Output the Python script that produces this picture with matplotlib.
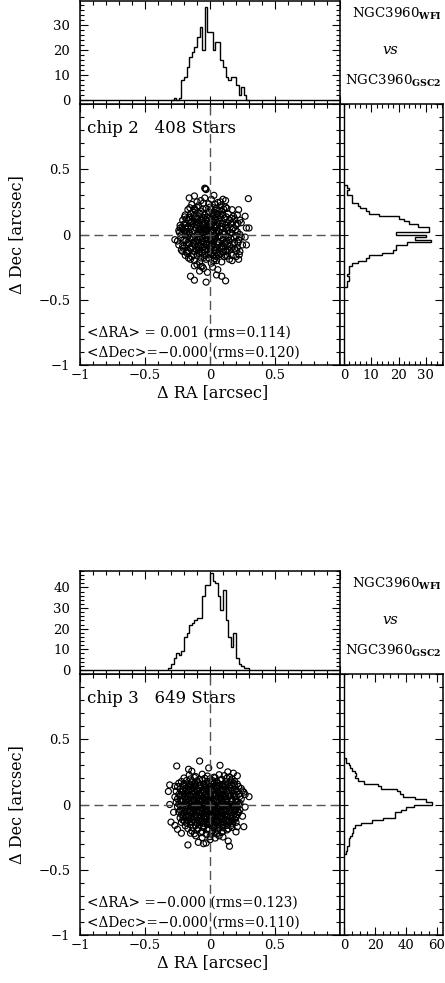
import numpy as np
import matplotlib.pyplot as plt
from matplotlib.ticker import MultipleLocator

plt.rcParams['font.family'] = 'DejaVu Serif'
plt.rcParams['mathtext.fontset'] = 'dejavuserif'

W, H = 445, 983
BIN = 0.02

# ---- chip 2 ----
chip2_label = 'chip 2   408 Stars'
chip2_stats = ['<ΔRA> = 0.001 (rms=0.114)', '<ΔDec>=−0.000 (rms=0.120)']
chip2_ra_start = -0.30
chip2_ra_counts = [0, 1, 0, 1, 8, 9, 13, 17, 19, 21, 25, 29, 20, 37, 27,
                   27, 20, 23, 23, 16, 13, 9, 8, 9, 9, 6, 2, 5, 2, 0]
chip2_dec_start = -0.40
chip2_dec_counts = [1, 1, 2, 2, 1, 2, 2, 2, 3, 5, 8, 9, 14, 18, 19, 19, 23,
                    32, 26, 30, 19, 31, 31, 27, 24, 22, 20, 13, 9, 8, 6, 5,
                    3, 3, 3, 1, 1, 2, 1]
chip2_stars = [
    (-0.04, 0.355), (-0.03, 0.345), (-0.035, 0.35), (-0.16, 0.28), (-0.12, 0.295),
    (0.295, 0.275), (0.10, 0.27), (0.08, 0.25), (-0.27, -0.04), (-0.23, 0.05),
    (-0.21, -0.13), (0.22, 0.19), (0.27, 0.14), (0.28, 0.05), (0.30, 0.05),
    (0.28, -0.08), (0.22, -0.19), (-0.15, -0.32), (-0.12, -0.35), (-0.03, -0.365),
    (0.09, -0.32), (0.12, -0.355), (-0.12, -0.24), (-0.07, -0.245), (-0.06, -0.245),
    (-0.165, -0.18), (-0.15, -0.19), (0.03, -0.20), (0.12, -0.16), (0.15, -0.19),
    (0.225, -0.155), (0.24, -0.02), (0.27, -0.02),
    (-0.14, 0.23), (-0.09, 0.22), (-0.05, 0.24), (0.0, 0.21), (0.04, 0.23),
    (0.08, 0.22), (0.12, 0.21), (-0.01, 0.235), (0.06, 0.245),
    (-0.17, 0.19), (-0.12, 0.20), (-0.07, 0.18), (-0.03, 0.20), (0.01, 0.19),
    (0.05, 0.20), (0.09, 0.18), (0.13, 0.20), (0.17, 0.19), (-0.10, 0.21), (0.03, 0.17),
    (-0.19, 0.15), (-0.15, 0.16), (-0.11, 0.14), (-0.08, 0.16), (-0.04, 0.15),
    (-0.01, 0.17), (0.02, 0.14), (0.06, 0.16), (0.10, 0.15), (0.14, 0.16),
    (0.18, 0.14), (0.21, 0.15), (-0.13, 0.17), (0.08, 0.13),
    (-0.21, 0.11), (-0.18, 0.12), (-0.14, 0.10), (-0.11, 0.12), (-0.07, 0.11),
    (-0.05, 0.13), (-0.02, 0.10), (0.01, 0.12), (0.04, 0.11), (0.07, 0.10),
    (0.11, 0.12), (0.15, 0.11), (0.19, 0.12), (0.23, 0.11), (-0.16, 0.13),
    (0.13, 0.09), (-0.09, 0.09),
    (-0.23, 0.07), (-0.20, 0.08), (-0.17, 0.06), (-0.13, 0.08), (-0.10, 0.07),
    (-0.06, 0.08), (-0.03, 0.06), (0.0, 0.08), (0.03, 0.07), (0.06, 0.09),
    (0.09, 0.06), (0.12, 0.07), (0.16, 0.08), (0.20, 0.07), (0.24, 0.09),
    (-0.08, 0.05), (0.04, 0.05), (0.18, 0.05), (-0.15, 0.09),
    (-0.24, 0.03), (-0.21, 0.04), (-0.18, 0.02), (-0.15, 0.04), (-0.12, 0.03),
    (-0.09, 0.02), (-0.05, 0.04), (-0.02, 0.03), (0.01, 0.02), (0.05, 0.03),
    (0.08, 0.04), (0.11, 0.02), (0.14, 0.03), (0.17, 0.04), (0.21, 0.02),
    (-0.01, 0.05), (0.10, 0.05), (-0.19, 0.05),
    (-0.22, 0.0), (-0.19, -0.01), (-0.16, 0.01), (-0.13, -0.02), (-0.10, 0.0),
    (-0.07, 0.01), (-0.04, -0.01), (-0.01, 0.0), (0.02, -0.02), (0.05, 0.01),
    (0.08, -0.01), (0.11, 0.0), (0.14, -0.02), (0.17, 0.01), (0.20, -0.01),
    (0.23, 0.0), (-0.06, -0.02), (0.03, 0.01),
    (-0.25, -0.05), (-0.20, -0.04), (-0.17, -0.06), (-0.14, -0.04), (-0.11, -0.05),
    (-0.08, -0.03), (-0.05, -0.06), (-0.02, -0.04), (0.01, -0.05), (0.04, -0.03),
    (0.07, -0.06), (0.10, -0.04), (0.13, -0.05), (0.16, -0.03), (0.19, -0.06),
    (0.22, -0.04), (-0.03, -0.07), (0.06, -0.02),
    (-0.24, -0.08), (-0.21, -0.09), (-0.18, -0.08), (-0.15, -0.10), (-0.12, -0.08),
    (-0.09, -0.09), (-0.06, -0.10), (-0.03, -0.08), (0.0, -0.09), (0.03, -0.10),
    (0.06, -0.08), (0.09, -0.09), (0.12, -0.07), (0.15, -0.09), (0.18, -0.08),
    (0.21, -0.10), (0.25, -0.08), (-0.16, -0.07),
    (-0.22, -0.12), (-0.18, -0.13), (-0.15, -0.11), (-0.12, -0.13), (-0.09, -0.12),
    (-0.06, -0.14), (-0.03, -0.11), (0.0, -0.13), (0.03, -0.12), (0.06, -0.14),
    (0.09, -0.11), (0.12, -0.13), (0.15, -0.12), (0.19, -0.11), (0.23, -0.13),
    (-0.01, -0.15),
    (-0.19, -0.16), (-0.14, -0.17), (-0.10, -0.16), (-0.07, -0.18), (-0.04, -0.16),
    (-0.01, -0.18), (0.02, -0.16), (0.05, -0.17), (0.08, -0.15), (0.11, -0.17),
    (0.17, -0.16), (0.20, -0.17),
    (-0.12, -0.20), (-0.08, -0.21), (-0.03, -0.19), (0.01, -0.22), (0.05, -0.20),
    (0.09, -0.21), (0.17, -0.20), (-0.10, -0.23),
    (-0.05, -0.26), (0.02, -0.25), (0.06, -0.27),
    (-0.05, 0.0), (-0.03, 0.02), (0.0, -0.03), (-0.02, -0.01), (0.02, 0.04),
    (-0.07, 0.04), (-0.04, 0.09), (0.01, 0.10), (0.0, 0.06), (-0.09, -0.06),
    (-0.06, -0.05), (0.02, -0.07), (-0.04, -0.12), (0.05, -0.10), (-0.11, 0.05),
    (0.07, 0.12), (-0.02, 0.13), (-0.06, 0.11), (0.03, 0.15), (-0.08, -0.13),
    (-0.04, 0.28), (0.01, 0.27), (-0.07, 0.26), (0.03, 0.30), (0.12, 0.26),
    (-0.10, 0.25), (-0.02, -0.29), (0.05, -0.31), (-0.08, -0.28),
    (-0.195, 0.135), (-0.165, 0.105), (-0.125, 0.145), (-0.095, 0.125), (-0.055, 0.165),
    (-0.035, 0.115), (0.015, 0.155), (0.045, 0.135), (0.085, 0.155), (0.125, 0.135),
    (0.165, 0.125),
    (-0.215, 0.055), (-0.185, 0.085), (-0.145, 0.065), (-0.115, 0.095), (-0.075, 0.065),
    (-0.045, 0.075), (-0.015, 0.085), (0.025, 0.095), (0.055, 0.065), (0.095, 0.085),
    (0.135, 0.055), (0.175, 0.095), (0.215, 0.085),
    (-0.235, 0.015), (-0.195, 0.025), (-0.165, -0.005), (-0.135, 0.015), (-0.085, 0.035),
    (-0.055, 0.015), (-0.025, 0.045), (0.015, 0.035), (0.035, -0.005), (0.065, 0.025),
    (0.095, 0.015), (0.125, 0.045), (0.155, 0.015), (0.195, 0.035),
    (-0.225, -0.025), (-0.185, -0.045), (-0.155, -0.025), (-0.125, -0.065), (-0.095, -0.035),
    (-0.065, -0.075), (-0.035, -0.025), (-0.005, -0.065), (0.025, -0.035), (0.055, -0.055),
    (0.085, -0.025), (0.115, -0.065), (0.145, -0.045), (0.185, -0.025), (0.215, -0.065),
    (-0.205, -0.105), (-0.165, -0.125), (-0.135, -0.095), (-0.105, -0.115), (-0.075, -0.085),
    (-0.045, -0.095), (-0.015, -0.115), (0.015, -0.085), (0.045, -0.125), (0.075, -0.105),
    (0.105, -0.095), (0.135, -0.115), (0.165, -0.105), (0.205, -0.125),
    (-0.175, -0.145), (-0.125, -0.155), (-0.085, -0.145), (-0.045, -0.175), (0.005, -0.145),
    (0.035, -0.185), (0.065, -0.155), (0.095, -0.135), (0.135, -0.165),
    (-0.115, 0.185), (-0.055, 0.195), (0.025, 0.205), (0.075, 0.185), (0.105, 0.195),
    (-0.155, 0.205),
]

# ---- chip 3 ----
chip3_label = 'chip 3   649 Stars'
chip3_stats = ['<ΔRA> =−0.000 (rms=0.123)', '<ΔDec>=−0.000 (rms=0.110)']
chip3_ra_start = -0.32
chip3_ra_counts = [1, 3, 6, 8, 7, 9, 16, 18, 22, 23, 24, 25, 25, 36, 41, 41,
                   47, 43, 42, 36, 29, 39, 24, 16, 11, 18, 6, 3, 2, 1, 1]
chip3_dec_start = -0.38
chip3_dec_counts = [1, 2, 2, 3, 3, 3, 4, 5, 6, 6, 7, 11, 18, 25, 33, 33, 37,
                    40, 45, 57, 53, 46, 38, 36, 34, 24, 22, 13, 9, 7, 8, 7, 5,
                    4, 3, 1, 1]
chip3_stars = [
    (-0.08, 0.333), (-0.256, 0.295), (0.077, 0.30), (-0.165, 0.27), (-0.14, 0.255),
    (-0.01, 0.28), (0.137, 0.25), (0.18, 0.24), (0.21, 0.22), (-0.32, 0.10),
    (-0.31, 0.15), (-0.27, 0.14), (0.30, 0.06), (0.27, 0.077), (0.26, 0.095),
    (-0.31, 0.0), (-0.28, -0.06), (-0.30, -0.135), (-0.27, -0.16), (-0.25, -0.19),
    (-0.22, -0.22), (-0.17, -0.31), (-0.09, -0.29), (-0.05, -0.30), (0.15, -0.32),
    (0.14, -0.28), (0.20, -0.21), (0.21, -0.17), (0.26, -0.17), (0.25, -0.09),
    (0.27, -0.02), (0.23, 0.01), (0.04, -0.21), (0.07, -0.24), (-0.11, -0.24),
    (-0.15, -0.22), (-0.03, -0.295), (0.0, -0.27),
    (-0.16, 0.225), (-0.11, 0.214), (-0.06, 0.232), (-0.02, 0.218), (0.03, 0.209),
    (0.07, 0.228), (0.11, 0.221), (0.15, 0.212),
    (-0.20, 0.203), (-0.15, 0.196), (-0.12, 0.207), (-0.08, 0.192), (-0.04, 0.201),
    (0.0, 0.197), (0.04, 0.205), (0.09, 0.193), (0.13, 0.202), (0.17, 0.196),
    (-0.22, 0.176), (-0.18, 0.184), (-0.14, 0.173), (-0.10, 0.181), (-0.06, 0.186),
    (-0.02, 0.175), (0.02, 0.183), (0.05, 0.177), (0.08, 0.185), (0.12, 0.174),
    (0.16, 0.182), (0.19, 0.178),
    (-0.24, 0.163), (-0.20, 0.155), (-0.16, 0.161), (-0.12, 0.157), (-0.09, 0.166),
    (-0.05, 0.154), (-0.01, 0.162), (0.03, 0.158), (0.06, 0.165), (0.10, 0.153),
    (0.14, 0.160), (0.18, 0.164), (0.21, 0.156),
    (-0.25, 0.137), (-0.21, 0.144), (-0.17, 0.135), (-0.14, 0.142), (-0.11, 0.138),
    (-0.07, 0.146), (-0.03, 0.134), (0.0, 0.141), (0.04, 0.136), (0.07, 0.145),
    (0.11, 0.139), (0.15, 0.133), (0.19, 0.143), (0.22, 0.137),
    (-0.23, 0.118), (-0.19, 0.124), (-0.15, 0.116), (-0.12, 0.122), (-0.08, 0.127),
    (-0.05, 0.114), (-0.02, 0.121), (0.01, 0.117), (0.05, 0.125), (0.09, 0.113),
    (0.12, 0.120), (0.16, 0.126), (0.20, 0.115), (0.24, 0.123),
    (-0.26, 0.102), (-0.22, 0.095), (-0.18, 0.104), (-0.14, 0.097), (-0.10, 0.106),
    (-0.07, 0.094), (-0.04, 0.101), (-0.01, 0.098), (0.02, 0.105), (0.06, 0.093),
    (0.09, 0.103), (0.13, 0.096), (0.17, 0.107), (0.21, 0.099), (0.25, 0.104),
    (-0.24, 0.077), (-0.20, 0.084), (-0.16, 0.075), (-0.13, 0.082), (-0.09, 0.078),
    (-0.06, 0.086), (-0.03, 0.074), (0.0, 0.081), (0.03, 0.076), (0.07, 0.085),
    (0.10, 0.079), (0.14, 0.073), (0.18, 0.083), (0.22, 0.077),
    (-0.27, 0.058), (-0.23, 0.064), (-0.19, 0.055), (-0.15, 0.062), (-0.11, 0.057),
    (-0.08, 0.066), (-0.05, 0.054), (-0.02, 0.061), (0.01, 0.056), (0.04, 0.065),
    (0.08, 0.059), (0.11, 0.053), (0.15, 0.063), (0.19, 0.057), (0.23, 0.062),
    (-0.25, 0.043), (-0.21, 0.036), (-0.17, 0.044), (-0.13, 0.038), (-0.10, 0.045),
    (-0.07, 0.034), (-0.04, 0.041), (-0.01, 0.037), (0.02, 0.046), (0.05, 0.035),
    (0.09, 0.042), (0.12, 0.039), (0.16, 0.044), (0.20, 0.036), (0.24, 0.041),
    (-0.26, 0.018), (-0.22, 0.025), (-0.18, 0.016), (-0.14, 0.023), (-0.11, 0.019),
    (-0.08, 0.026), (-0.05, 0.014), (-0.02, 0.021), (0.01, 0.017), (0.04, 0.024),
    (0.07, 0.015), (0.10, 0.022), (0.13, 0.018), (0.17, 0.025), (0.21, 0.016),
    (-0.24, 0.003), (-0.20, -0.004), (-0.16, 0.005), (-0.12, -0.002), (-0.09, 0.006),
    (-0.06, -0.005), (-0.03, 0.002), (0.0, -0.003), (0.03, 0.004), (0.06, -0.006),
    (0.09, 0.001), (0.12, -0.002), (0.15, 0.005), (0.19, -0.004), (0.22, 0.003),
    (-0.25, -0.017), (-0.21, -0.024), (-0.17, -0.015), (-0.14, -0.022), (-0.10, -0.018),
    (-0.07, -0.026), (-0.04, -0.014), (-0.01, -0.021), (0.02, -0.016), (0.05, -0.025),
    (0.08, -0.019), (0.11, -0.013), (0.14, -0.023), (0.18, -0.017), (0.21, -0.022),
    (-0.23, -0.043), (-0.19, -0.036), (-0.15, -0.045), (-0.12, -0.038), (-0.08, -0.044),
    (-0.05, -0.035), (-0.02, -0.042), (0.01, -0.037), (0.04, -0.046), (0.07, -0.034),
    (0.10, -0.041), (0.13, -0.038), (0.17, -0.044), (0.20, -0.036), (0.23, -0.042),
    (-0.24, -0.058), (-0.20, -0.064), (-0.16, -0.055), (-0.13, -0.062), (-0.09, -0.057),
    (-0.06, -0.066), (-0.03, -0.054), (0.0, -0.061), (0.03, -0.056), (0.06, -0.065),
    (0.09, -0.059), (0.12, -0.053), (0.16, -0.063), (0.19, -0.057), (0.22, -0.062),
    (-0.22, -0.077), (-0.18, -0.084), (-0.14, -0.075), (-0.11, -0.082), (-0.07, -0.078),
    (-0.04, -0.086), (-0.01, -0.074), (0.02, -0.081), (0.05, -0.076), (0.08, -0.085),
    (0.11, -0.079), (0.14, -0.073), (0.18, -0.083), (0.21, -0.077),
    (-0.23, -0.102), (-0.19, -0.095), (-0.15, -0.104), (-0.12, -0.097), (-0.08, -0.106),
    (-0.05, -0.094), (-0.02, -0.101), (0.01, -0.098), (0.04, -0.105), (0.07, -0.093),
    (0.10, -0.103), (0.13, -0.096), (0.17, -0.107), (0.20, -0.099),
    (-0.21, -0.118), (-0.17, -0.124), (-0.13, -0.116), (-0.09, -0.122), (-0.06, -0.127),
    (-0.03, -0.114), (0.0, -0.121), (0.03, -0.117), (0.06, -0.125), (0.09, -0.113),
    (0.12, -0.120), (0.15, -0.126), (0.19, -0.115),
    (-0.22, -0.137), (-0.18, -0.144), (-0.14, -0.135), (-0.10, -0.142), (-0.07, -0.138),
    (-0.04, -0.146), (-0.01, -0.134), (0.02, -0.141), (0.05, -0.136), (0.08, -0.145),
    (0.11, -0.139), (0.14, -0.133), (0.17, -0.143), (0.20, -0.137),
    (-0.19, -0.163), (-0.15, -0.155), (-0.11, -0.161), (-0.08, -0.157), (-0.05, -0.166),
    (-0.02, -0.154), (0.01, -0.162), (0.04, -0.158), (0.07, -0.165), (0.10, -0.153),
    (0.13, -0.160), (0.16, -0.164),
    (-0.17, -0.184), (-0.13, -0.176), (-0.09, -0.183), (-0.05, -0.177), (-0.01, -0.185),
    (0.03, -0.174), (0.06, -0.182), (0.10, -0.178), (0.14, -0.186), (0.17, -0.175),
    (-0.14, -0.203), (-0.10, -0.196), (-0.06, -0.207), (-0.02, -0.194), (0.02, -0.202),
    (0.06, -0.198), (0.10, -0.205), (0.13, -0.195),
    (-0.12, -0.224), (-0.07, -0.216), (-0.03, -0.228), (0.01, -0.219), (0.05, -0.226),
    (0.09, -0.214),
    (-0.06, -0.253), (0.0, -0.246), (0.04, -0.257), (0.10, -0.249),
    (-0.185, 0.151), (-0.15, 0.148), (-0.115, 0.153), (-0.08, 0.147), (-0.045, 0.152),
    (-0.015, 0.149), (0.015, 0.154), (0.05, 0.146), (0.085, 0.151), (0.12, 0.148),
    (0.165, 0.152),
    (-0.205, 0.108), (-0.165, 0.113), (-0.13, 0.107), (-0.095, 0.112), (-0.06, 0.109),
    (-0.03, 0.114), (0.0, 0.106), (0.035, 0.111), (0.07, 0.108), (0.105, 0.113),
    (0.145, 0.107), (0.185, 0.112),
    (-0.215, 0.069), (-0.175, 0.072), (-0.14, 0.067), (-0.105, 0.071), (-0.07, 0.068),
    (-0.04, 0.073), (-0.01, 0.066), (0.02, 0.071), (0.05, 0.069), (0.085, 0.074),
    (0.12, 0.067), (0.16, 0.071), (0.2, 0.068),
    (-0.23, 0.031), (-0.19, 0.028), (-0.155, 0.033), (-0.12, 0.027), (-0.09, 0.032),
    (-0.06, 0.029), (-0.03, 0.034), (0.0, 0.027), (0.03, 0.032), (0.06, 0.028),
    (0.09, 0.033), (0.125, 0.029), (0.165, 0.031), (0.205, 0.027),
    (-0.225, -0.011), (-0.185, -0.008), (-0.145, -0.013), (-0.11, -0.007), (-0.08, -0.012),
    (-0.05, -0.009), (-0.02, -0.014), (0.01, -0.008), (0.04, -0.011), (0.07, -0.007),
    (0.1, -0.012), (0.135, -0.009), (0.17, -0.013), (0.205, -0.008),
    (-0.215, -0.049), (-0.175, -0.052), (-0.14, -0.047), (-0.105, -0.053), (-0.07, -0.048),
    (-0.04, -0.051), (-0.01, -0.046), (0.02, -0.052), (0.05, -0.049), (0.08, -0.054),
    (0.115, -0.047), (0.15, -0.051), (0.185, -0.048), (0.215, -0.053),
    (-0.205, -0.091), (-0.165, -0.088), (-0.13, -0.093), (-0.095, -0.087), (-0.065, -0.092),
    (-0.035, -0.089), (-0.005, -0.094), (0.025, -0.088), (0.055, -0.091), (0.09, -0.087),
    (0.125, -0.092), (0.16, -0.089), (0.195, -0.093),
    (-0.195, -0.129), (-0.155, -0.132), (-0.115, -0.127), (-0.08, -0.133), (-0.045, -0.128),
    (-0.015, -0.131), (0.015, -0.126), (0.045, -0.132), (0.075, -0.129), (0.105, -0.134),
    (0.14, -0.127), (0.175, -0.131),
]

# tick labels
pos_ticks = [-1, -0.5, 0, 0.5, 1]
pos_labels = ['−1', '−0.5', '0', '0.5', '']


def px_rect(x0, y0, x1, y1):
    return [x0 / W, 1 - y1 / H, (x1 - x0) / W, (y1 - y0) / H]


def ticks(ax, xmaj, xmin, ymaj, ymin):
    ax.xaxis.set_major_locator(MultipleLocator(xmaj))
    ax.xaxis.set_minor_locator(MultipleLocator(xmin))
    ax.yaxis.set_major_locator(MultipleLocator(ymaj))
    ax.yaxis.set_minor_locator(MultipleLocator(ymin))
    ax.tick_params(which='both', direction='in', top=True, right=True,
                   width=0.8, labelsize=9.5)
    ax.tick_params(which='major', length=6)
    ax.tick_params(which='minor', length=3)
    for s in ax.spines.values():
        s.set_linewidth(1.1)


def panel(fig, dy, stars, ra_start, ra_counts, dec_start, dec_counts,
          top_ylim, top_step, right_xlim, right_step, right_minor, label, stats):
    ra, dec = np.array(stars).T

    # main scatter
    ax = fig.add_axes(px_rect(80, 104 + dy, 340, 365 + dy))
    ax.scatter(ra, dec, s=19, facecolors='none', edgecolors='k', linewidths=0.85)
    ax.axhline(0, color='#555555', lw=1, dashes=(6.5, 3.5))
    ax.axvline(0, color='#555555', lw=1, dashes=(6.5, 3.5))
    ax.set_xlim(-1, 1)
    ax.set_ylim(-1, 1)
    ticks(ax, 0.5, 0.1, 0.5, 0.1)
    ax.set_xticks(pos_ticks, pos_labels)
    ax.set_yticks(pos_ticks, pos_labels)
    ax.tick_params(axis='x', pad=3)
    ax.tick_params(axis='y', pad=7)
    ax.text(0.027, 0.905, label, transform=ax.transAxes, fontsize=12,
            va='center', ha='left')
    ax.text(0.027, 0.125, stats[0], transform=ax.transAxes, fontsize=9.8,
            va='center', ha='left')
    ax.text(0.027, 0.048, stats[1], transform=ax.transAxes, fontsize=9.8,
            va='center', ha='left')

    # top histogram (RA)
    axt = fig.add_axes(px_rect(80, 1 + dy, 340, 104 + dy))
    ra_edges = ra_start + BIN * np.arange(len(ra_counts) + 1)
    axt.hlines(0, -1, 1, color='k', lw=1)
    axt.stairs(ra_counts, ra_edges, color='k', lw=1)
    axt.set_xlim(-1, 1)
    axt.set_ylim(*top_ylim)
    ticks(axt, 0.5, 0.1, top_step, 2)
    axt.tick_params(axis='x', labelbottom=False)
    axt.tick_params(axis='y', pad=7)

    # right histogram (Dec)
    axr = fig.add_axes(px_rect(340, 104 + dy, 443, 365 + dy))
    dec_edges = dec_start + BIN * np.arange(len(dec_counts) + 1)
    axr.vlines(0, -1, 1, color='k', lw=1)
    axr.stairs(dec_counts, dec_edges, color='k', lw=1, orientation='horizontal')
    axr.set_ylim(-1, 1)
    axr.set_xlim(*right_xlim)
    ticks(axr, right_step, right_minor, 0.5, 0.1)
    axr.tick_params(axis='y', labelleft=False)
    axr.tick_params(axis='x', pad=3)

    # axis titles
    fig.text(213 / W, 1 - (393 + dy) / H, 'Δ RA [arcsec]', fontsize=11.6,
             ha='center', va='center')
    fig.text(17 / W, 1 - (235 + dy) / H, 'Δ Dec [arcsec]', fontsize=11.6,
             ha='center', va='center', rotation=90)

    # comparison caption
    fig.text(352 / W, 1 - (18 + dy) / H, r'NGC3960$_{\mathbf{WFI}}$',
             fontsize=9.6, ha='left', va='baseline')
    fig.text(390 / W, 1 - (50 + dy) / H, 'vs', fontsize=10.5, style='italic',
             ha='center', va='center')
    fig.text(345 / W, 1 - (85 + dy) / H, r'NGC3960$_{\mathbf{GSC2}}$',
             fontsize=9.6, ha='left', va='baseline')


fig = plt.figure(figsize=(W / 100, H / 100), dpi=100)
panel(fig, 0, chip2_stars, chip2_ra_start, chip2_ra_counts,
      chip2_dec_start, chip2_dec_counts, (-1.6, 39.6), 10,
      (-1.47, 36.3), 10, 2, chip2_label, chip2_stats)
panel(fig, 570, chip3_stars, chip3_ra_start, chip3_ra_counts,
      chip3_dec_start, chip3_dec_counts, (-2, 48), 10,
      (-2.6, 63.9), 20, 5, chip3_label, chip3_stats)
fig.savefig('out.png', dpi=100)
